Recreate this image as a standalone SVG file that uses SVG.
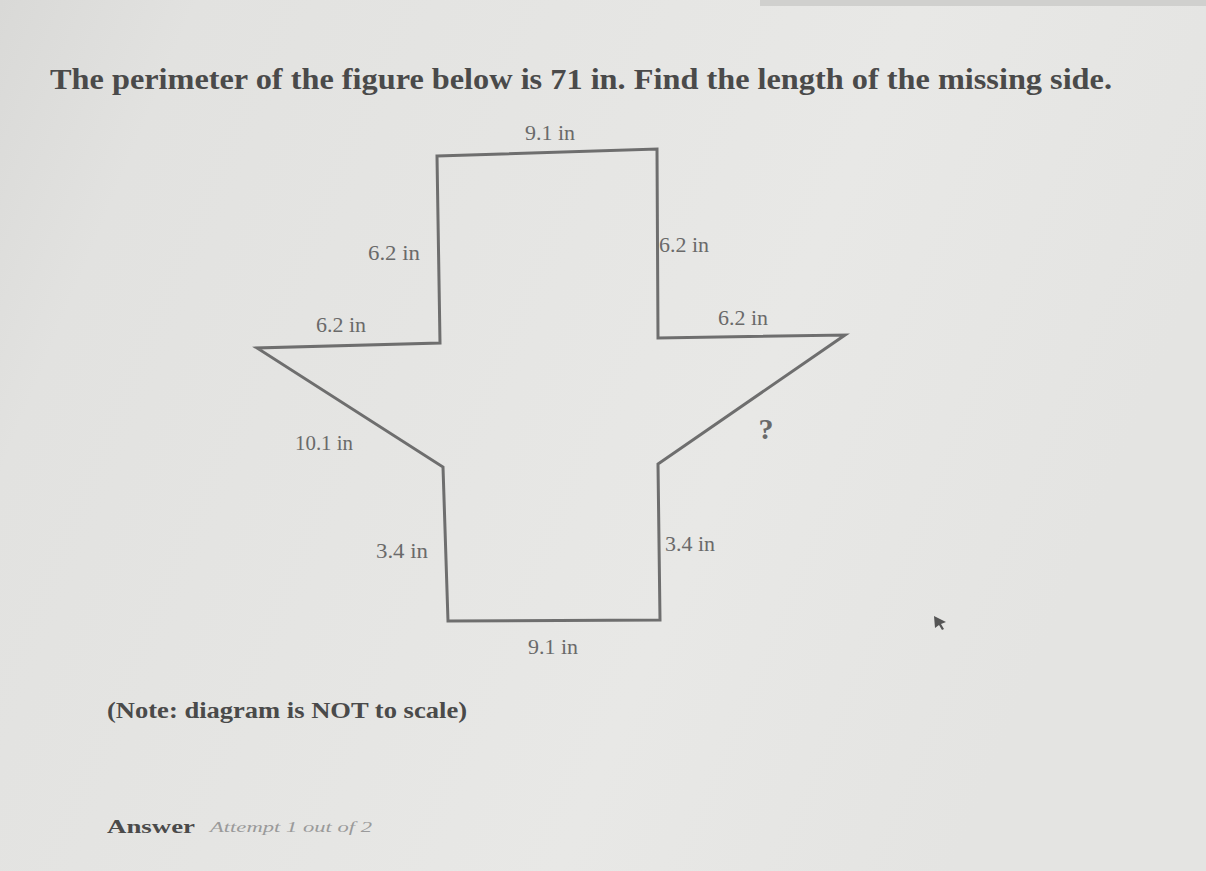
<svg xmlns="http://www.w3.org/2000/svg" width="1206" height="871" viewBox="0 0 1206 871">
<defs>
<linearGradient id="bg" x1="0" y1="0" x2="1" y2="0.3">
<stop offset="0" stop-color="#d9d9d7"/>
<stop offset="0.15" stop-color="#e2e2e0"/>
<stop offset="0.7" stop-color="#e8e8e6"/>
<stop offset="1" stop-color="#e4e4e2"/>
</linearGradient>
<style>
.t{font-family:"Liberation Serif","DejaVu Serif",serif;fill:#4a4a4a}
.lbl{font-family:"Liberation Serif","DejaVu Serif",serif;fill:#6a6a6a;font-size:21px}
.shape{fill:none;stroke:#6e6e6e;stroke-width:3;stroke-linejoin:miter}
</style>
</defs>
<rect width="1206" height="871" fill="url(#bg)"/>
<rect x="760" y="0" width="446" height="6" fill="#d0d0ce"/>
<text class="t" x="50" y="89" font-size="29" font-weight="bold" textLength="1062" lengthAdjust="spacingAndGlyphs">The perimeter of the figure below is 71 in. Find the length of the missing side.</text>
<g id="figure">
<polygon class="shape" points="437,156 657,149 658,338 845,335 658,464 660,620 448,621 443,467 257,348 440,343"/>
</g>
<g id="labels">
<text class="lbl" x="550" y="140" text-anchor="middle" textLength="50" lengthAdjust="spacingAndGlyphs">9.1 in</text>
<text class="lbl" x="394" y="260" text-anchor="middle" textLength="52" lengthAdjust="spacingAndGlyphs">6.2 in</text>
<text class="lbl" x="684" y="252" text-anchor="middle" textLength="50" lengthAdjust="spacingAndGlyphs">6.2 in</text>
<text class="lbl" x="341" y="332" text-anchor="middle" textLength="50" lengthAdjust="spacingAndGlyphs">6.2 in</text>
<text class="lbl" x="743" y="325" text-anchor="middle" textLength="50" lengthAdjust="spacingAndGlyphs">6.2 in</text>
<text class="lbl" x="324" y="450" text-anchor="middle" textLength="58" lengthAdjust="spacingAndGlyphs">10.1 in</text>
<text class="lbl" x="766" y="439" text-anchor="middle" style="font-size:30px;font-weight:bold">?</text>
<text class="lbl" x="402" y="558" text-anchor="middle" textLength="52" lengthAdjust="spacingAndGlyphs">3.4 in</text>
<text class="lbl" x="690" y="551" text-anchor="middle" textLength="50" lengthAdjust="spacingAndGlyphs">3.4 in</text>
<text class="lbl" x="553" y="654" text-anchor="middle" textLength="50" lengthAdjust="spacingAndGlyphs">9.1 in</text>
</g>
<text class="t" x="107" y="718" font-size="23" font-weight="bold" textLength="360" lengthAdjust="spacingAndGlyphs">(Note: diagram is NOT to scale)</text>
<text class="t" x="107" y="833" font-size="19" font-weight="bold" textLength="88" lengthAdjust="spacingAndGlyphs">Answer</text>
<text x="210" y="832" font-family="Liberation Serif, serif" font-size="14" font-style="italic" fill="#9a9a9a" textLength="162" lengthAdjust="spacingAndGlyphs">Attempt 1 out of 2</text>
<polygon points="934,616 946,622 941,624 944,629 942,630 939,625 935,628" fill="#555"/>
</svg>
